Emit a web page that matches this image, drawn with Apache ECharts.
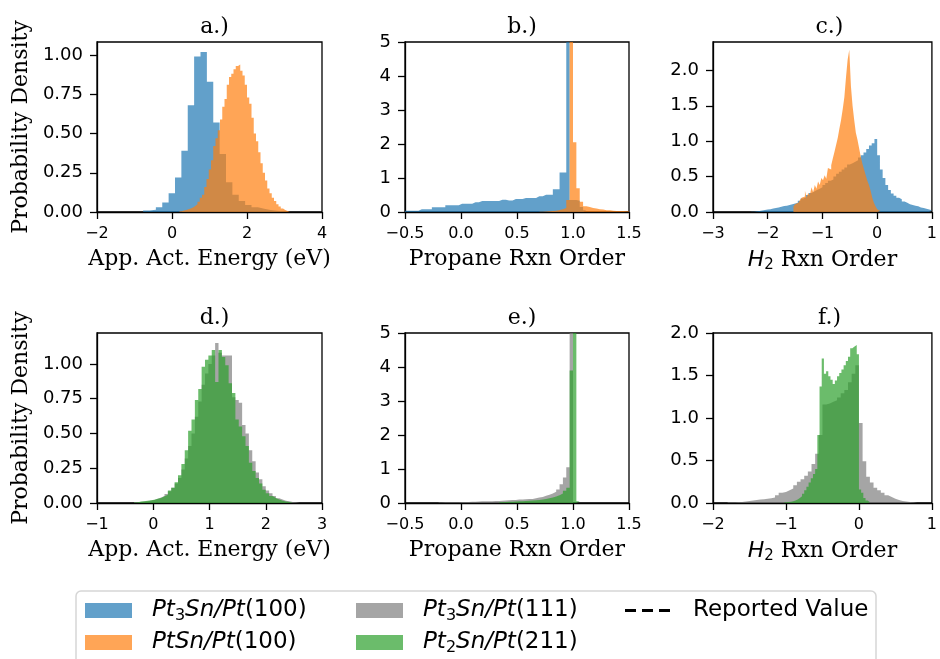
<!DOCTYPE html>
<html>
<head>
<meta charset="utf-8">
<script src="https://cdn.jsdelivr.net/npm/echarts/dist/echarts.min.js"></script>
<style>
  html, body { margin: 0; padding: 0; background: #fff; }
  #chart { width: 940px; height: 659px; }
</style>
</head>
<body>
<div id="chart"></div>
<script>
// ---- data (bin start, bin width, bar heights) ----
// a.) apparent activation energy, (100) facets
const aBlueStart = -0.77, aBlueWidth = 0.17;
const aBlue = [0.01, 0.015, 0.03, 0.06, 0.12, 0.22, 0.39, 0.68, 0.99, 1.02, 0.83, 0.57, 0.37, 0.19,
  0.11, 0.07, 0.045, 0.03, 0.02, 0.012, 0.008, 0.005, 0.003];
const aOrangeStart = 0.20, aOrangeWidth = 0.06;
const aOrange = [0.005, 0.01, 0.013, 0.018, 0.022, 0.028, 0.038, 0.05, 0.065, 0.09,
  0.11, 0.16, 0.21, 0.27, 0.33, 0.42, 0.47, 0.52, 0.59, 0.67,
  0.72, 0.81, 0.86, 0.88, 0.91, 0.93, 0.94, 0.90, 0.87, 0.81,
  0.73, 0.69, 0.60, 0.50, 0.45, 0.38, 0.31, 0.25, 0.20, 0.15,
  0.12, 0.09, 0.07, 0.05, 0.035, 0.022, 0.013, 0.007, 0.003];

// b.) propane reaction order, (100) facets
const bBlueStart = -0.5, bBlueWidth = 0.03;
const bBlue = [0.04, 0.04, 0.04, 0.04, 0.08, 0.08, 0.08, 0.08, 0.14, 0.14, 0.14, 0.14,
  0.20, 0.20, 0.20, 0.20, 0.24, 0.24, 0.24, 0.24, 0.29, 0.29,
  0.32, 0.32, 0.32, 0.32, 0.32, 0.32, 0.36, 0.36, 0.34, 0.34, 0.38, 0.38, 0.38,
  0.41, 0.41, 0.41, 0.41, 0.46, 0.46, 0.51, 0.51, 0.51, 0.67, 0.67, 1.16, 1.16, 12,
  0.35, 0.35, 0.33, 0.15, 0.05];
const bOrangeStart = 0.70, bOrangeWidth = 0.03;
const bOrange = [0.01, 0.015, 0.02, 0.03, 0.04, 0.06, 0.08, 0.12, 0.35, 12, 2.05, 0.7, 0.3,
  0.17, 0.15, 0.12, 0.10, 0.08, 0.07, 0.05, 0.05, 0.04, 0.03, 0.03, 0.03, 0.02, 0.02, 0.02];

// c.) H2 reaction order, (100) facets
const cBlueStart = -2.30, cBlueWidth = 0.05;
const cBlue = [0.005, 0.01, 0.015, 0.02, 0.03, 0.035, 0.04, 0.05, 0.055, 0.065,
  0.075, 0.085, 0.09, 0.10, 0.11, 0.12, 0.13, 0.16, 0.19, 0.21,
  0.24, 0.27, 0.29, 0.31, 0.33, 0.35, 0.38, 0.41, 0.44, 0.46,
  0.50, 0.54, 0.57, 0.60, 0.63, 0.67, 0.69, 0.71, 0.73, 0.77,
  0.80, 0.84, 0.89, 0.94, 0.97, 1.03, 0.80, 0.60, 0.48, 0.38,
  0.31, 0.26, 0.23, 0.20, 0.18, 0.15, 0.13, 0.11, 0.10, 0.09,
  0.08, 0.065, 0.055, 0.045, 0.035, 0.025];
const cOrangeStart = -1.53, cOrangeWidth = 0.03;
const cOrange = [0.08, 0.11, 0.13, 0.15, 0.17, 0.20, 0.22, 0.30, 0.20, 0.27,
  0.24, 0.35, 0.28, 0.38, 0.33, 0.43, 0.38, 0.48, 0.45, 0.52,
  0.47, 0.62, 0.60, 0.66, 0.76, 0.85, 0.95, 1.05, 1.18, 1.30,
  1.45, 1.62, 1.90, 2.15, 2.29, 1.78, 1.50, 1.30, 1.12, 1.02,
  0.90, 0.78, 0.68, 0.60, 0.52, 0.44, 0.38, 0.30, 0.20, 0.13,
  0.08, 0.04, 0.015];

// d.) apparent activation energy, (111) and (211) facets
const dGrayStart = -0.34, dGrayWidth = 0.06;
const dGray = [0.005, 0.008, 0.01, 0.013, 0.017, 0.022, 0.03, 0.04, 0.05, 0.065,
  0.085, 0.11, 0.14, 0.18, 0.24, 0.32, 0.41, 0.50, 0.62, 0.73,
  0.85, 0.93, 1.00, 1.06, 1.15, 1.08, 1.06, 1.06, 1.06, 0.76,
  0.74, 0.72, 0.56, 0.50, 0.38, 0.30, 0.22, 0.17, 0.12, 0.09,
  0.07, 0.05, 0.035, 0.025, 0.017, 0.012, 0.008, 0.005, 0.003];
const dGreenStart = -0.34, dGreenWidth = 0.06;
const dGreen = [0.004, 0.01, 0.012, 0.016, 0.02, 0.024, 0.03, 0.036, 0.048, 0.06,
  0.09, 0.11, 0.15, 0.20, 0.28, 0.38, 0.52, 0.60, 0.74, 0.82,
  0.98, 1.03, 1.06, 1.10, 0.87, 1.10, 1.05, 0.99, 0.86, 0.79,
  0.60, 0.55, 0.48, 0.41, 0.29, 0.23, 0.18, 0.14, 0.095, 0.07,
  0.05, 0.036, 0.025, 0.017, 0.01, 0.007, 0.004];

// e.) propane reaction order, (111) and (211) facets
const eGrayStart = -0.20, eGrayWidth = 0.03;
const eGray = [0.015, 0.02, 0.02, 0.02, 0.025, 0.025, 0.03, 0.03, 0.03, 0.035,
  0.04, 0.045, 0.05, 0.05, 0.055, 0.055, 0.06, 0.06, 0.065, 0.07,
  0.08, 0.085, 0.09, 0.10, 0.10, 0.11, 0.12, 0.12, 0.14, 0.16,
  0.18, 0.21, 0.24, 0.28, 0.33, 0.40, 0.55, 0.75, 1.05, 12];
const eGreenStart = 0.34, eGreenWidth = 0.03;
const eGreen = [0.02, 0.03, 0.035, 0.04, 0.045, 0.05, 0.055, 0.06, 0.065, 0.07,
  0.08, 0.09, 0.10, 0.12, 0.14, 0.16, 0.19, 0.23, 0.28, 0.36,
  0.45, 3.9, 12, 0.05];

// f.) H2 reaction order, (111) and (211) facets
const fGrayStart = -1.80, fGrayWidth = 0.05;
const fGray = [0.008, 0.01, 0.012, 0.012, 0.018, 0.025, 0.03, 0.035, 0.04, 0.045,
  0.05, 0.055, 0.065, 0.09, 0.12, 0.13, 0.15, 0.17, 0.21, 0.25,
  0.28, 0.32, 0.37, 0.46, 0.58, 0.80, 1.16, 1.17, 1.19, 1.21,
  1.24, 1.29, 1.33, 1.42, 1.52, 1.62, 0.94, 0.49, 0.31, 0.24,
  0.18, 0.15, 0.12, 0.09, 0.07, 0.05, 0.035, 0.025, 0.018, 0.012,
  0.008, 0.005];
const fGreenStart = -1.02, fGreenWidth = 0.03;
const fGreen = [0.008, 0.012, 0.015, 0.02, 0.03, 0.04, 0.06, 0.08, 0.11, 0.15,
  0.19, 0.24, 0.29, 0.34, 0.40, 0.80, 1.37, 1.70, 1.52, 1.55,
  1.49, 1.45, 1.40, 1.44, 1.49, 1.53, 1.57, 1.62, 1.67, 1.72,
  1.82, 1.84, 1.86, 1.75, 0.16, 0.12, 0.06, 0.03, 0.01];

// ---- tick values ----
const energyTicksTop = [-2, 0, 2, 4];
const energyTicksBottom = [-1, 0, 1, 2, 3];
const propaneTicks = [-0.5, 0, 0.5, 1.0, 1.5];
const h2TicksTop = [-3, -2, -1, 0, 1];
const h2TicksBottom = [-2, -1, 0, 1];
const densityTicksQuarter = [0, 0.25, 0.5, 0.75, 1.0];
const densityTicksInt = [0, 1, 2, 3, 4, 5];
const densityTicksHalf = [0, 0.5, 1.0, 1.5, 2.0];

const seriesNames = ['Pt3Sn/Pt(100)', 'PtSn/Pt(100)', 'Pt3Sn/Pt(111)', 'Pt2Sn/Pt(211)', 'Reported Value'];
const seriesColors = ['#1f77b4', '#ff7f0e', '#7f7f7f', '#2ca02c'];

const SERIF = 'DejaVu Serif';
const SANS = 'DejaVu Sans';

const gridLefts = [97, 405, 713];
const gridWidths = [225, 224, 223];
const gridTops = [42, 333];
const gridHeight = 170;

function fmt(dec) {
  return v => (v < -1e-9 ? '\u2212' : '') + Math.abs(v).toFixed(dec);
}

function hist(name, color, start, width, heights, idx) {
  const pts = heights.map((h, i) => [start + i * width, h]);
  pts.push([start + heights.length * width, 0]);
  return {
    type: 'line', name, xAxisIndex: idx, yAxisIndex: idx,
    data: pts, step: 'end', symbol: 'none', silent: true,
    lineStyle: {width: 0, opacity: 0},
    itemStyle: {color},
    areaStyle: {color, opacity: 0.7}
  };
}

const panels = [
  {title: 'a.)', xMin: -2, xMax: 4, xTicks: energyTicksTop, xDec: 0, yMax: 1.083, yTicks: densityTicksQuarter, yDec: 2,
    xName: 'App. Act. Energy (eV)',
    hists: [[0, aBlueStart, aBlueWidth, aBlue], [1, aOrangeStart, aOrangeWidth, aOrange]]},
  {title: 'b.)', xMin: -0.5, xMax: 1.5, xTicks: propaneTicks, xDec: 1, yMax: 5, yTicks: densityTicksInt, yDec: 0,
    xName: 'Propane Rxn Order',
    hists: [[0, bBlueStart, bBlueWidth, bBlue], [1, bOrangeStart, bOrangeWidth, bOrange]]},
  {title: 'c.)', xMin: -3, xMax: 1, xTicks: h2TicksTop, xDec: 0, yMax: 2.40, yTicks: densityTicksHalf, yDec: 1,
    xName: '{hi|H}{hs|2}{hn| Rxn Order}',
    hists: [[0, cBlueStart, cBlueWidth, cBlue], [1, cOrangeStart, cOrangeWidth, cOrange]]},
  {title: 'd.)', xMin: -1, xMax: 3, xTicks: energyTicksBottom, xDec: 0, yMax: 1.222, yTicks: densityTicksQuarter, yDec: 2,
    xName: 'App. Act. Energy (eV)',
    hists: [[2, dGrayStart, dGrayWidth, dGray], [3, dGreenStart, dGreenWidth, dGreen]]},
  {title: 'e.)', xMin: -0.5, xMax: 1.5, xTicks: propaneTicks, xDec: 1, yMax: 5, yTicks: densityTicksInt, yDec: 0,
    xName: 'Propane Rxn Order',
    hists: [[2, eGrayStart, eGrayWidth, eGray], [3, eGreenStart, eGreenWidth, eGreen]]},
  {title: 'f.)', xMin: -2, xMax: 1, xTicks: h2TicksBottom, xDec: 0, yMax: 2.0, yTicks: densityTicksHalf, yDec: 1,
    xName: '{hi|H}{hs|2}{hn| Rxn Order}',
    hists: [[2, fGrayStart, fGrayWidth, fGray], [3, fGreenStart, fGreenWidth, fGreen]]}
];

const nameRich = {
  hi: {fontFamily: SANS, fontStyle: 'italic', fontSize: 22, color: '#000'},
  hs: {fontFamily: SANS, fontSize: 15, color: '#000', padding: [10, 0, 0, 0]},
  hn: {fontFamily: SERIF, fontSize: 22, color: '#000'}
};

const grid = [], xAxis = [], yAxis = [], title = [], series = [];
panels.forEach((p, i) => {
  const col = i % 3, row = Math.floor(i / 3);
  grid.push({left: gridLefts[col], top: gridTops[row], width: gridWidths[col], height: gridHeight,
    show: true, borderColor: '#000', borderWidth: 1.3, backgroundColor: 'transparent'});
  title.push({text: p.title, left: gridLefts[col] + gridWidths[col] / 2, top: gridTops[row] - 31, textAlign: 'center',
    textStyle: {fontFamily: SERIF, fontSize: 22, fontWeight: 'normal', color: '#000'}});
  xAxis.push({
    type: 'value', gridIndex: i, min: p.xMin, max: p.xMax,
    name: p.xName, nameLocation: 'middle', nameGap: 36,
    nameTextStyle: {fontFamily: SERIF, fontSize: 22, color: '#000', rich: nameRich},
    axisLine: {show: true, onZero: false, lineStyle: {color: '#000', width: 1.3}},
    axisTick: {show: true, length: 7, customValues: p.xTicks, lineStyle: {color: '#000', width: 1.3}},
    axisLabel: {customValues: p.xTicks, margin: 14, fontFamily: SANS, fontSize: 16, color: '#000', formatter: fmt(p.xDec)},
    splitLine: {show: false}
  });
  yAxis.push({
    type: 'value', gridIndex: i, min: 0, max: p.yMax,
    name: col === 0 ? 'Probability Density' : '', nameLocation: 'middle', nameGap: 65,
    nameTextStyle: {fontFamily: SERIF, fontSize: 22, color: '#000'},
    axisLine: {show: true, onZero: false, lineStyle: {color: '#000', width: 1.3}},
    axisTick: {show: true, length: 7, customValues: p.yTicks, lineStyle: {color: '#000', width: 1.3}},
    axisLabel: {customValues: p.yTicks, margin: 14, fontFamily: SANS, fontSize: 18, color: '#000', formatter: fmt(p.yDec)},
    splitLine: {show: false}
  });
  p.hists.forEach(([k, start, width, heights]) => {
    series.push(hist(seriesNames[k], seriesColors[k], start, width, heights, i));
  });
});

// empty series so the legend can show the dashed "Reported Value" entry
series.push({type: 'line', name: seriesNames[4], xAxisIndex: 0, yAxisIndex: 0, data: [], symbol: 'none',
  lineStyle: {color: '#000', width: 3, type: [11, 6]}, itemStyle: {color: '#000'}});

const legendLabels = {
  'Pt3Sn/Pt(100)': '{i|Pt}{s|3}{i|Sn/Pt}{n|(100)}',
  'PtSn/Pt(100)': '{i|PtSn/Pt}{n|(100)}',
  'Pt3Sn/Pt(111)': '{i|Pt}{s|3}{i|Sn/Pt}{n|(111)}',
  'Pt2Sn/Pt(211)': '{i|Pt}{s|2}{i|Sn/Pt}{n|(211)}',
  'Reported Value': '{n|Reported Value}'
};
const legendRich = {
  i: {fontFamily: SANS, fontStyle: 'italic', fontSize: 23, color: '#000'},
  s: {fontFamily: SANS, fontSize: 16, color: '#000', padding: [10, 0, 0, 0]},
  n: {fontFamily: SANS, fontSize: 23, color: '#000'}
};
const dashIcon = 'path://M0,0h11v3h-11zM17,0h11v3h-11zM34,0h11v3h-11z';
const legendSpots = [[85, 609], [85, 641], [356, 609], [356, 641], [625, 609]];
const legend = seriesNames.map((name, k) => {
  const isPatch = k < 4;
  const entry = isPatch
    ? {name, icon: 'rect', itemStyle: {color: seriesColors[k], opacity: 0.7}}
    : {name, icon: dashIcon, itemStyle: {color: '#000', opacity: 1}};
  return {
    left: legendSpots[k][0], top: legendSpots[k][1] - 10, padding: 0,
    data: [entry], itemWidth: isPatch ? 47 : 45, itemHeight: isPatch ? 15 : 3, selectedMode: false,
    formatter: n => legendLabels[n],
    textStyle: {padding: [0, 0, 0, isPatch ? 15 : 18], rich: legendRich}
  };
});

const chart = echarts.init(document.getElementById('chart'), null, {renderer: 'canvas'});
chart.setOption({
  animation: false,
  backgroundColor: '#fff',
  title, grid, xAxis, yAxis, series, legend,
  graphic: [{
    type: 'rect', z: 0, silent: true,
    shape: {x: 76, y: 591, width: 800, height: 90, r: 5},
    style: {fill: '#fff', stroke: '#d6d6d6', lineWidth: 1.5}
  }]
});
</script>
</body>
</html>
